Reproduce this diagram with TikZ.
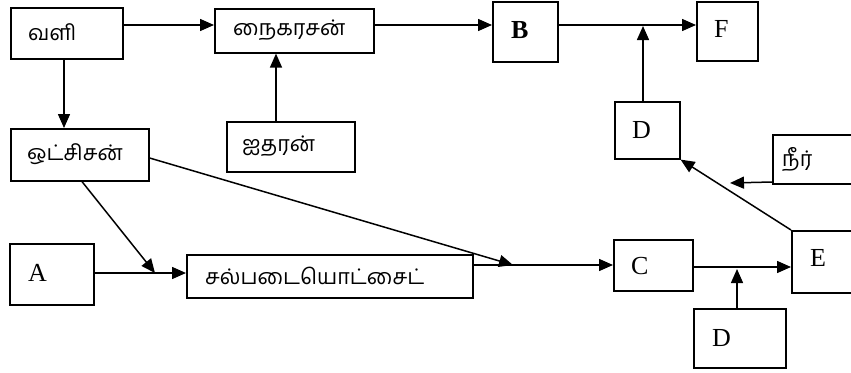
\documentclass[tikz,border=0pt]{standalone}
\usepackage{fontspec}
\setmainfont{Liberation Serif}
\newfontfamily\tamil[Script=Tamil]{Hind Madurai}
\usetikzlibrary{arrows.meta}
\begin{document}
\begin{tikzpicture}[x=1pt,y=-1pt,
  box/.style={draw, line width=1.6pt, inner sep=0pt, anchor=north west},
  lbl/.style={anchor=west, inner sep=0pt, font=\fontsize{26}{28}\selectfont},
  tlbl/.style={anchor=west, inner sep=0pt, font=\tamil\fontsize{21.5}{24}\selectfont},
  arr/.style={line width=1.5pt, -{Triangle[length=14pt,width=12pt]}},
  ln/.style={line width=1.5pt}]
\clip (0,0) rectangle (851,372);
\fill[white] (0,0) rectangle (851,372);
% boxes
\node[box, minimum width=112pt, minimum height=51pt] (vali) at (10,7) {};
\node[box, minimum width=159pt, minimum height=44pt] (naik) at (214,8) {};
\node[box, minimum width=138pt, minimum height=52pt] (oxy) at (10,128) {};
\node[box, minimum width=128pt, minimum height=50pt] (hyd) at (226,121) {};
\node[box, minimum width=65pt, minimum height=60pt] (B) at (492,1) {};
\node[box, minimum width=61pt, minimum height=59pt] (F) at (696,1) {};
\node[box, minimum width=65pt, minimum height=57pt] (D1) at (614,101) {};
\node[box, minimum width=100pt, minimum height=49pt] (water) at (772,134) {};
\node[box, minimum width=84pt, minimum height=61pt] (A) at (9,243) {};
\node[box, minimum width=286pt, minimum height=43pt] (sulf) at (186,254) {};
\node[box, minimum width=79pt, minimum height=51pt] (C) at (613,239) {};
\node[box, minimum width=80pt, minimum height=62pt] (E) at (791,230) {};
\node[box, minimum width=92pt, minimum height=59pt] (D2) at (693,308) {};
% labels
\node[tlbl] (tvali) at (28,32) {வளி};
\node[tlbl] (tnaik) at (233,30) {நைகரசன்};
\node[tlbl] (toxy) at (27,154) {ஒட்சிசன்};
\node[tlbl] (thyd) at (242,146) {ஐதரன்};
\node[tlbl] (tsulf) at (205,276) {சல்படையொட்சைட்};
\node[tlbl] (twater) at (782,159) {நீர்};
\node[lbl, font=\fontsize{26}{28}\selectfont\bfseries] (tB) at (511,30) {B};
\node[lbl] (tF) at (714,29) {F};
\node[lbl] (tD1) at (632,130) {D};
\node[lbl] (tA) at (28,273) {A};
\node[lbl] (tC) at (631,266) {C};
\node[lbl] (tE) at (810,258) {E};
\node[lbl] (tD2) at (712,338) {D};
% junction points
\coordinate (j1) at (155,273);
\coordinate (j2) at (513,265);
\coordinate (j3) at (643,26);
\coordinate (j4) at (737,269);
\coordinate (j5) at (730,183);
% connectors
\draw[arr] (vali.east |- 0,25) -- (naik.west |- 0,25);
\draw[arr] (naik.east |- 0,25) -- (B.west |- 0,25);
\draw[arr] (B.east |- 0,25) -- (F.west |- 0,25);
\draw[arr] (D1.north -| j3) -- (j3);
\draw[arr] (hyd.north -| 276,0) -- (naik.south -| 276,0);
\draw[arr] (vali.south -| 64,0) -- (oxy.north -| 64,0);
\draw[ln] (A.east |- j1) -- (j1);
\draw[arr] (j1) -- (sulf.west |- j1);
\draw[arr] (oxy.south -| 82,0) -- (j1);
\draw[ln] (sulf.east |- j2) -- (j2);
\draw[arr] (j2) -- (C.west |- j2);
\draw[arr] (oxy.east |- 0,158) -- (j2);
\draw[arr] (C.east |- 0,267) -- (E.west |- 0,267);
\draw[arr] (D2.north -| j4) -- (j4);
\draw[arr] (E.north west) -- (D1.south east);
\draw[arr] (water.west |- 0,182) -- (j5);
\end{tikzpicture}
\end{document}
